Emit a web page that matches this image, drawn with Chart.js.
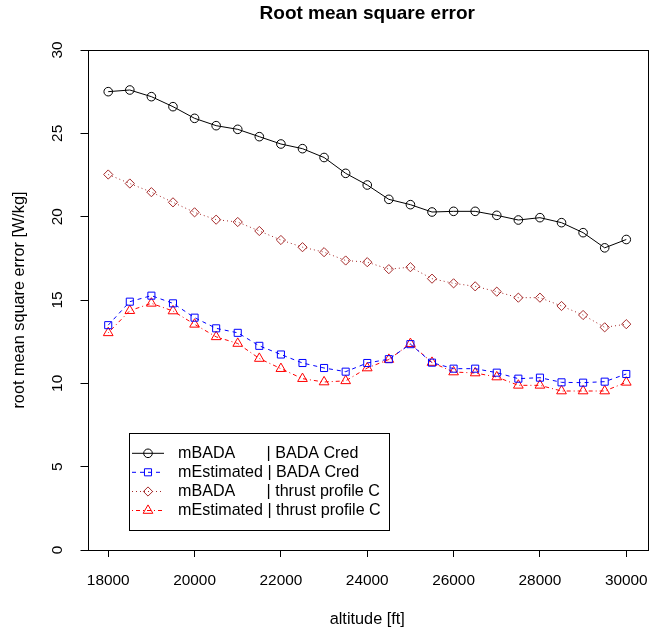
<!DOCTYPE html>
<html>
<head>
<meta charset="utf-8">
<script src="https://cdn.jsdelivr.net/npm/chart.js@4/dist/chart.umd.min.js"></script>
<style>
  html, body { margin: 0; padding: 0; background: #fff; }
  #wrap { width: 665px; height: 635px; }
</style>
</head>
<body>
<div id="wrap"><canvas id="grafico" width="665" height="635"></canvas></div>
<script>
// altitudes [ft]
const altitudes = [18000, 18500, 19000, 19500, 20000, 20500, 21000, 21500, 22000, 22500, 23000, 23500,
                   24000, 24500, 25000, 25500, 26000, 26500, 27000, 27500, 28000, 28500, 29000, 29500, 30000];

// RMSE [W/kg]
const mBadaCred = [27.5, 27.6, 27.2, 26.6, 25.9, 25.46, 25.24, 24.8, 24.36, 24.08, 23.55, 22.6,
                   21.9, 21.04, 20.72, 20.28, 20.32, 20.32, 20.08, 19.8, 19.94, 19.64, 19.04, 18.13, 18.63];
const mEstCred = [13.49, 14.9, 15.26, 14.8, 13.94, 13.3, 13.03, 12.25, 11.73, 11.22, 10.92, 10.7,
                  11.22, 11.45, 12.35, 11.24, 10.88, 10.88, 10.64, 10.28, 10.34, 10.06, 10.04, 10.1, 10.56];
const mBadaThrust = [22.53, 21.99, 21.47, 20.86, 20.26, 19.82, 19.68, 19.14, 18.6, 18.17, 17.87, 17.37,
                     17.27, 16.85, 16.97, 16.28, 16.0, 15.82, 15.5, 15.14, 15.14, 14.64, 14.1, 13.36, 13.55];
const mEstThrust = [13.03, 14.36, 14.8, 14.34, 13.54, 12.79, 12.39, 11.49, 10.88, 10.28, 10.08, 10.15,
                    10.92, 11.43, 12.38, 11.25, 10.68, 10.62, 10.38, 9.88, 9.88, 9.54, 9.54, 9.54, 10.06];

const xTicks = [18000, 20000, 22000, 24000, 26000, 28000, 30000];
const yTicks = [0, 5, 10, 15, 20, 25, 30];

const legendLabels = [
    "mBADA       | BADA Cred",
    "mEstimated | BADA Cred",
    "mBADA       | thrust profile C",
    "mEstimated | thrust profile C"
];

const FONTE = '"Liberation Sans", Arial, Helvetica, sans-serif';

function serie(valores, cor, dash, estilo, raio) {
    return {
        data: altitudes.map((a, i) => ({ x: a, y: valores[i] })),
        borderColor: cor,
        borderWidth: 1,
        borderDash: dash,
        backgroundColor: 'rgba(0,0,0,0)',
        pointStyle: estilo,
        pointRadius: raio,
        pointBorderColor: cor,
        pointBorderWidth: 1,
        pointBackgroundColor: 'rgba(0,0,0,0)',
        tension: 0
    };
}

const datasets = [
    serie(mBadaCred, '#000000', [], 'circle', 4.3),
    serie(mEstCred, '#0000ff', [4, 4], 'rect', 5),
    serie(mBadaThrust, '#a52a2a', [1, 3], 'rectRot', 4.6),
    serie(mEstThrust, '#ff0000', [1, 3, 4, 3], 'triangle', 5.6)
];

// textos extras, caixa e legenda no estilo do R
const extras = {
    id: 'extras',
    afterDraw(chart) {
        const ctx = chart.ctx;
        const area = chart.chartArea;
        const y = chart.scales.y;
        ctx.save();
        ctx.fillStyle = '#000';
        ctx.strokeStyle = '#000';
        ctx.lineWidth = 1;

        // caixa
        ctx.strokeRect(Math.round(area.left) + 0.5, Math.round(area.top) + 0.5,
                       Math.round(area.right - area.left), Math.round(area.bottom - area.top));

        // titulo
        ctx.font = 'bold 19px ' + FONTE;
        ctx.textAlign = 'center';
        ctx.textBaseline = 'middle';
        const cx = (area.left + area.right) / 2;
        ctx.fillText('Root mean square error', cx, 13.5);

        // eixo x
        ctx.font = '16.3px ' + FONTE;
        ctx.fillText('altitude [ft]', cx, 620);

        // eixo y: titulo
        ctx.save();
        ctx.translate(20, (area.top + area.bottom) / 2);
        ctx.rotate(-Math.PI / 2);
        ctx.fillText('root mean square error [W/kg]', 0, 0);
        ctx.restore();

        // eixo y: rotulos rotacionados
        ctx.font = '15.4px ' + FONTE;
        yTicks.forEach(v => {
            ctx.save();
            ctx.translate(57.5, y.getPixelForValue(v));
            ctx.rotate(-Math.PI / 2);
            ctx.fillText(String(v), 0, 0);
            ctx.restore();
        });

        // legenda
        ctx.font = '16.1px ' + FONTE;
        ctx.strokeRect(129.5, 433.5, 260, 97);
        const linhas = [453.3, 472.3, 491.5, 510.5];
        chart.data.datasets.forEach((ds, i) => {
            const ly = linhas[i];
            ctx.save();
            ctx.strokeStyle = ds.borderColor;
            ctx.fillStyle = 'rgba(0,0,0,0)';
            ctx.setLineDash(ds.borderDash);
            ctx.beginPath();
            ctx.moveTo(132, ly);
            ctx.lineTo(164, ly);
            ctx.stroke();
            ctx.setLineDash([]);
            Chart.helpers.drawPoint(ctx, {
                pointStyle: ds.pointStyle,
                radius: ds.pointRadius,
                borderWidth: 1,
                rotation: 0
            }, 148, ly);
            ctx.restore();
            ctx.textAlign = 'left';
            ctx.fillText(legendLabels[i], 178, ly);
        });
        ctx.restore();
    }
};

Chart.register(extras);

new Chart(document.getElementById('grafico').getContext('2d'), {
    type: 'line',
    data: { datasets: datasets },
    options: {
        responsive: false,
        animation: false,
        devicePixelRatio: 1,
        layout: { padding: { left: 0, top: 50, right: 18, bottom: 0 } },
        plugins: { legend: { display: false }, tooltip: { enabled: false } },
        scales: {
            x: {
                type: 'linear',
                min: 17520,
                max: 30480,
                afterBuildTicks: s => { s.ticks = xTicks.map(v => ({ value: v })); },
                afterFit: s => { s.height = 85; },
                border: { display: false },
                grid: { drawOnChartArea: false, drawTicks: true, tickLength: 7, color: '#000' },
                ticks: {
                    color: '#000',
                    font: { family: FONTE, size: 15.4 },
                    padding: 15,
                    maxRotation: 0,
                    autoSkip: false,
                    callback: v => String(v)
                }
            },
            y: {
                type: 'linear',
                min: 0,
                max: 30,
                afterBuildTicks: s => { s.ticks = yTicks.map(v => ({ value: v })); },
                afterFit: s => { s.width = 87.5; },
                border: { display: false },
                grid: { drawOnChartArea: false, drawTicks: true, tickLength: 7, color: '#000' },
                ticks: { display: false }
            }
        }
    }
});
</script>
</body>
</html>
